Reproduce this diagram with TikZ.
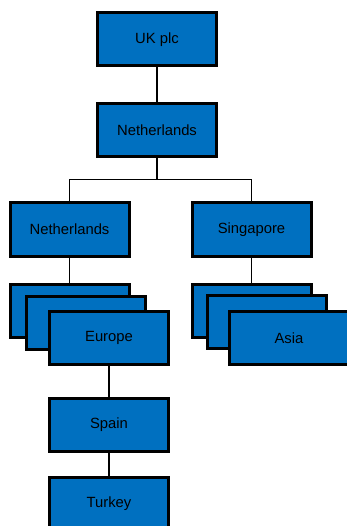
\documentclass[tikz,border=0pt]{standalone}
\usepackage{fontspec}
\setmainfont{Liberation Sans}
\usepackage{xcolor}
\usetikzlibrary{positioning}
\definecolor{groupblue}{RGB}{0,112,192}

\begin{document}
\begin{tikzpicture}[x=1pt, y=-1pt, node distance=35pt,
    entity/.style={draw, line width=3pt, fill=groupblue, minimum width=119pt, minimum height=53pt, inner sep=0pt, font=\fontsize{14.8}{17}\selectfont},
    link/.style={line width=1.3pt}]
        \path [use as bounding box, clip] (0,0) rectangle (347,526);

        % Holding companies
        \node [entity] (uk) at (157,39.5) {UK plc};
        \node [entity, below=of uk] (nlhold) {Netherlands};

        % Regional companies
        \node [entity] (nlsub) at (69.5,229.5) {Netherlands};
        \node [entity] (sg) at (251.5,229.5) {Singapore};

        % Europe stack
        \node [entity, below=25pt of nlsub] (eua) {};
        \node [entity] (eub) at (86,322.5) {};
        \node [entity] (europe) at (109,338) {Europe};

        % Asia stack
        \node [entity, below=25pt of sg] (asa) {};
        \node [entity] (asb) at (267,322) {};
        \node [entity] (asia) at (289,338) {Asia};

        % Country companies
        \node [entity, below=31pt of europe] (spain) {Spain};
        \node [entity, below=23pt of spain] (turkey) {Turkey};

        % Lines
        \draw [link] (uk) -- (nlhold);
        \draw [link] (nlhold.south) -- ++(0,21) -| (nlsub.north);
        \draw [link] (nlhold.south) -- ++(0,21) -| (sg.north);
        \draw [link] (nlsub) -- (eua);
        \draw [link] (sg) -- (asa);
        \draw [link] (europe) -- (spain);
        \draw [link] (spain) -- (turkey);
    \end{tikzpicture}
\end{document}
